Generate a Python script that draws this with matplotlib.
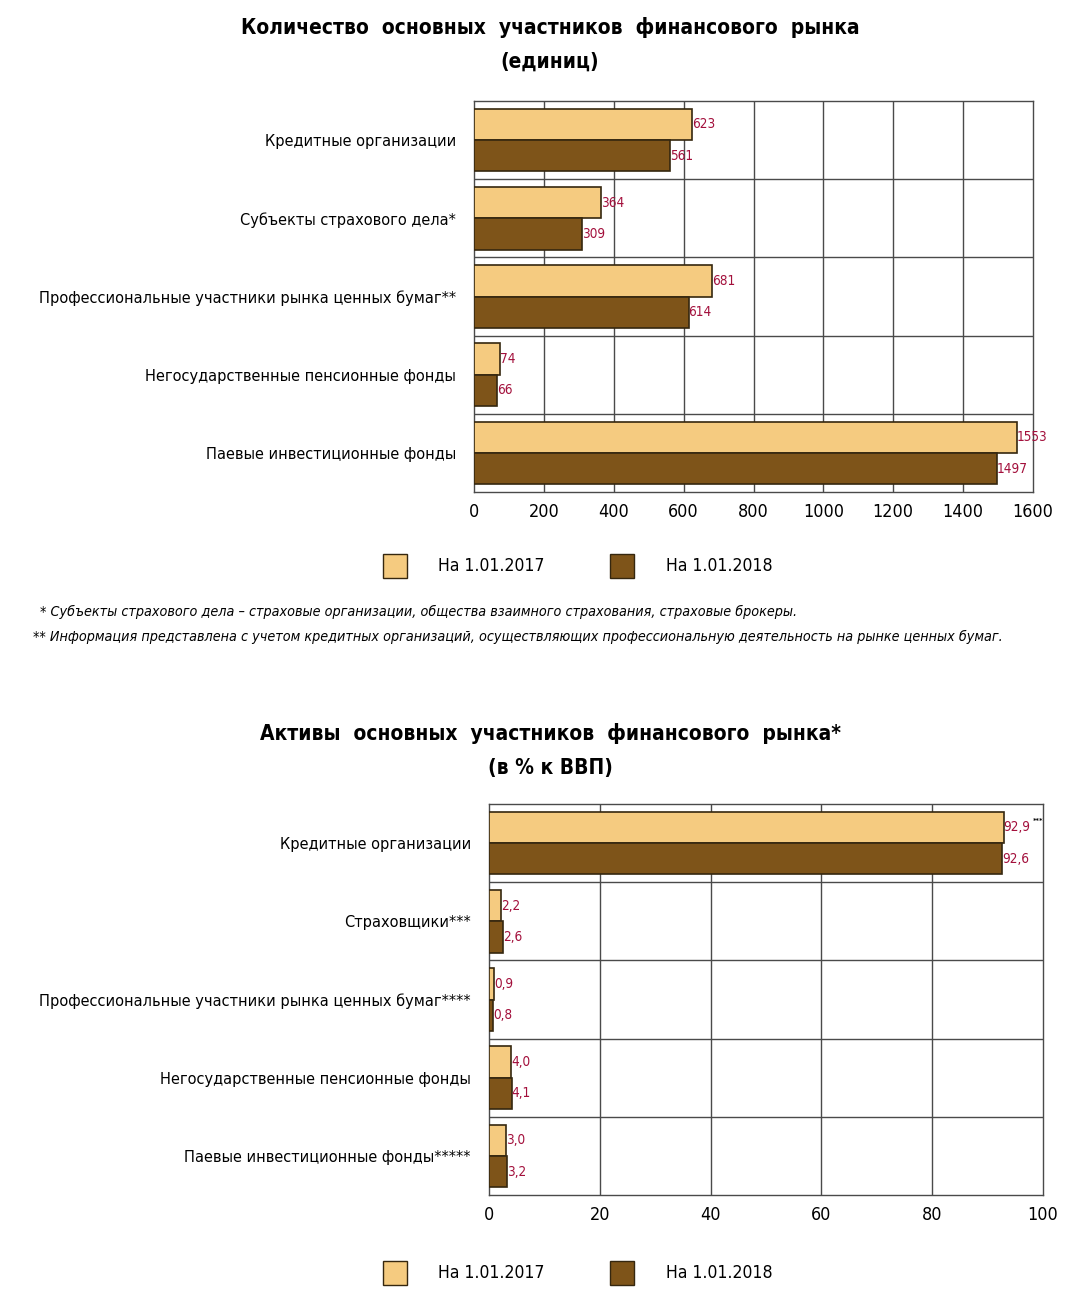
import numpy as np
import matplotlib
matplotlib.use("Agg")
import matplotlib.pyplot as plt
from matplotlib import font_manager as fm
from matplotlib.patches import Rectangle

# ---- data -------------------------------------------------------------
count_categories = [
    "Кредитные организации",
    "Субъекты страхового дела*",
    "Профессиональные участники рынка ценных бумаг**",
    "Негосударственные пенсионные фонды",
    "Паевые инвестиционные фонды",
]
count_2017 = [623, 364, 681, 74, 1553]
count_2018 = [561, 309, 614, 66, 1497]
count_ticks = [0, 200, 400, 600, 800, 1000, 1200, 1400, 1600]

asset_categories = [
    "Кредитные организации",
    "Страховщики***",
    "Профессиональные участники рынка ценных бумаг****",
    "Негосударственные пенсионные фонды",
    "Паевые инвестиционные фонды*****",
]
asset_2017 = [92.9, 2.2, 0.9, 4.0, 3.0]
asset_2018 = [92.6, 2.6, 0.8, 4.1, 3.2]
asset_ticks = [0, 20, 40, 60, 80, 100]

series_labels = ["На 1.01.2017", "На 1.01.2018"]

LIGHT = "#F5CB80"
DARK = "#7E5419"
EDGE = "#35270f"
VALUE_COLOR = "#A3103C"
GRID = "#4a4a4a"

# the original uses a condensed face; take the narrowest one we have
avail = {(f.name, f.stretch) for f in fm.fontManager.ttflist}
if any(n == "Liberation Sans Narrow" for n, _ in avail):
    plt.rcParams["font.family"] = ["Liberation Sans Narrow", "DejaVu Sans"]
elif any(n == "DejaVu Sans" and s in ("condensed", 500, "semi-condensed") for n, s in avail):
    plt.rcParams["font.family"] = ["DejaVu Sans"]
    plt.rcParams["font.stretch"] = "condensed"
else:
    plt.rcParams["font.family"] = ["Liberation Sans", "DejaVu Sans"]

W, H = 1076.0, 1300.0
fig = plt.figure(figsize=(W / 100, H / 100), dpi=100)
fig.patch.set_facecolor("white")
renderer = fig.canvas.get_renderer()


def fit_size(text, target_px, **kw):
    # font size at which `text` is target_px wide
    t = fig.text(0, 0, text, fontsize=10, **kw)
    w = t.get_window_extent(renderer).width
    t.remove()
    return 10.0 * target_px / w


def fmt_ru(v):
    if isinstance(v, float):
        return f"{v:.1f}".replace(".", ",")
    return str(v)


CAT_FS = fit_size(count_categories[2], 420)
TICK_FS = fit_size("1600", 41)
VAL_FS = fit_size("1553", 31)
TITLE_FS = fit_size("Количество  основных  участников  финансового  рынка", 614, fontweight="bold")
LEG_FS = fit_size(series_labels[0], 107)
NOTE_FS = fit_size("** Информация представлена с учетом кредитных организаций, осуществляющих "
                   "профессиональную деятельность на рынке ценных бумаг.", 965, style="italic")


def px(x, y):
    return x / W, 1 - y / H


def draw_panel(ax, cats, v1, v2, ticks, xmax):
    y = np.arange(len(cats))
    ax.barh(y - 0.2, v1, height=0.4, color=LIGHT, edgecolor=EDGE, linewidth=1.2, zorder=3)
    ax.barh(y + 0.2, v2, height=0.4, color=DARK, edgecolor=EDGE, linewidth=1.2, zorder=3)
    for yi, a, b in zip(y, v1, v2):
        ax.text(a, yi - 0.2, fmt_ru(a), color=VALUE_COLOR, fontsize=VAL_FS,
                va="center", ha="left", zorder=4)
        ax.text(b, yi + 0.2, fmt_ru(b), color=VALUE_COLOR, fontsize=VAL_FS,
                va="center", ha="left", zorder=4)
    ax.set_xlim(0, xmax)
    ax.set_ylim(len(cats) - 0.5, -0.5)
    ax.set_xticks(ticks)
    ax.set_xticklabels([str(t) for t in ticks], fontsize=TICK_FS)
    ax.set_yticks(y)
    ax.set_yticklabels(cats, fontsize=CAT_FS)
    ax.tick_params(axis="both", length=0)
    ax.tick_params(axis="x", pad=8)
    ax.tick_params(axis="y", pad=13)
    for t in ticks[1:-1]:
        ax.axvline(t, color=GRID, linewidth=1.0, zorder=1)
    for b in np.arange(0.5, len(cats) - 0.5, 1.0):
        ax.axhline(b, color=GRID, linewidth=1.0, zorder=1)
    for s in ax.spines.values():
        s.set_color(GRID)
        s.set_linewidth(1.0)


def draw_legend(ybase):
    for x0, col, lab, tx in [(383, LIGHT, series_labels[0], 438),
                             (610, DARK, series_labels[1], 666)]:
        fig.patches.append(Rectangle(px(x0, ybase + 12), 24 / W, 24 / H,
                                     transform=fig.transFigure, facecolor=col,
                                     edgecolor=EDGE, linewidth=1.0))
        fig.text(*px(tx, ybase), lab, fontsize=LEG_FS, va="center", ha="left")


def draw_title(lines, ytop):
    for i, line in enumerate(lines):
        fig.text(*px(550, ytop + 35 * i), line, ha="center", va="center",
                 fontsize=TITLE_FS, fontweight="bold")


# top chart
ax1 = fig.add_axes([474 / W, 808 / H, 559 / W, 391 / H])
draw_panel(ax1, count_categories, count_2017, count_2018, count_ticks, 1600)
draw_title(["Количество  основных  участников  финансового  рынка", "(единиц)"], 27)
draw_legend(566)
fig.text(*px(40, 612),
         "* Субъекты страхового дела – страховые организации, общества взаимного "
         "страхования, страховые брокеры.",
         fontsize=NOTE_FS, style="italic", va="center", ha="left")
fig.text(*px(33, 637),
         "** Информация представлена с учетом кредитных организаций, осуществляющих "
         "профессиональную деятельность на рынке ценных бумаг.",
         fontsize=NOTE_FS, style="italic", va="center", ha="left")

# bottom chart
ax2 = fig.add_axes([489 / W, 105 / H, 554 / W, 391 / H])
draw_panel(ax2, asset_categories, asset_2017, asset_2018, asset_ticks, 100)
ax2.annotate("***", xy=(asset_2017[0], -0.2), xytext=(29, 6), textcoords="offset pixels",
             fontsize=VAL_FS * 0.55, fontweight="bold", color="black",
             va="center", ha="left", zorder=4)
draw_title(["Активы  основных  участников  финансового  рынка*", "(в % к ВВП)"], 733)
draw_legend(1273)

fig.savefig("out.png", dpi=100, facecolor="white")
